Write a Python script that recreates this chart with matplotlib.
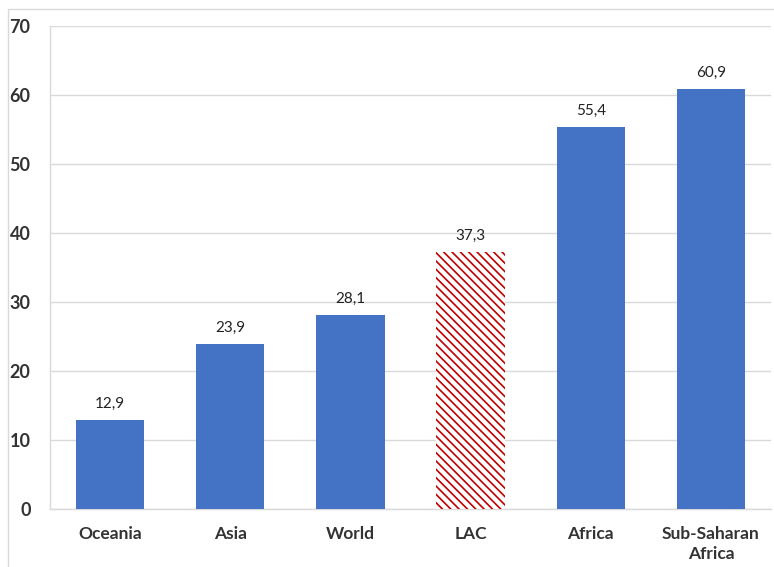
import matplotlib.pyplot as plt
from matplotlib.patches import Rectangle

regions = ["Oceania", "Asia", "World", "LAC", "Africa", "Sub-Saharan\nAfrica"]
values = [12.9, 23.9, 28.1, 37.3, 55.4, 60.9]
highlight = "LAC"
yticks = [0, 10, 20, 30, 40, 50, 60, 70]

plt.rcParams['font.family'] = ['Lato', 'DejaVu Sans']
plt.rcParams['hatch.linewidth'] = 1.2
plt.rcParams['hatch.color'] = '#C00000'

fig = plt.figure(figsize=(7.74, 5.67), dpi=100)
ax = fig.add_axes([50 / 774, 1 - 509 / 567, 721 / 774, 483 / 567])

# light frame around the whole chart area
fig.patches.append(Rectangle((8 / 774, -0.1), 1.2, 1 - 9 / 567 + 0.1,
                             transform=fig.transFigure, fill=False,
                             edgecolor='#D9D9D9', linewidth=1))

x = range(len(regions))
for i, (name, v) in enumerate(zip(regions, values)):
    if name == highlight:
        ax.bar(i, v, width=0.57, color='white', edgecolor='#C00000',
               linewidth=0, hatch='\\\\\\\\', zorder=3)
    else:
        ax.bar(i, v, width=0.57, color='#4472C4', zorder=3)
    ax.text(i, v + 1.3, f"{v:.1f}".replace('.', ','), ha='center', va='bottom',
            fontsize=11, color='#222222')

ax.set_xlim(-0.5, len(regions) - 0.5)
ax.set_ylim(0, 70)
ax.set_yticks(yticks)
ax.set_xticks(list(x))
ax.set_xticklabels(regions, fontweight='bold', fontsize=12.5, color='#333333',
                   linespacing=1.35)
ax.set_yticklabels([str(t) for t in yticks], fontweight='bold', fontsize=13,
                   color='#333333')
ax.tick_params(axis='both', length=0)
ax.tick_params(axis='x', pad=12)
ax.tick_params(axis='y', pad=14)
ax.yaxis.grid(True, color='#D9D9D9', linewidth=1)
ax.set_axisbelow(True)
for side in ['top', 'right']:
    ax.spines[side].set_visible(False)
for side in ['left', 'bottom']:
    ax.spines[side].set_color('#D9D9D9')
    ax.spines[side].set_linewidth(1)

fig.savefig("out.png", dpi=100)
